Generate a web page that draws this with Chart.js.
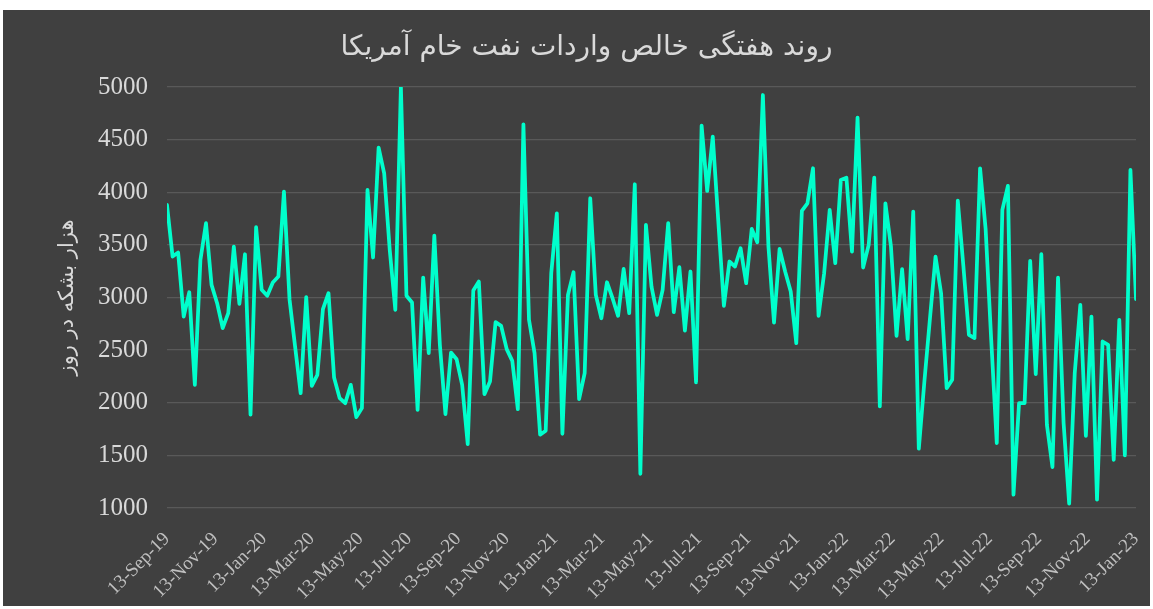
<!DOCTYPE html>
<html>
<head>
<meta charset="utf-8">
<script src="https://cdn.jsdelivr.net/npm/chart.js@4.4.1/dist/chart.umd.min.js"></script>
<style>
    body { margin: 0; background: #ffffff; }
    .chart-box {
        position: absolute;
        left: 3px;
        top: 10px;
        width: 1147px;
        height: 596px;
        background: #404040;
    }
</style>
</head>
<body>
<div class="chart-box"><canvas id="chartContext"></canvas></div>
<script>
// First week of the series (weekly data, one point every 7 days)
const startDate = "2019-09-13";

// Weekly net crude imports, thousand barrels per day
const importValues = [
    3880, 3389, 3427, 2819, 3050, 2170, 3357, 3706, 3120, 2946,
    2709, 2851, 3484, 2940, 3411, 1886, 3668, 3073, 3016, 3142,
    3199, 4006, 2984, 2534, 2091, 3003, 2161, 2265, 2889, 3041,
    2240, 2044, 1996, 2170, 1864, 1949, 4022, 3380, 4424, 4180,
    3450, 2883, 5000, 3016, 2952, 1933, 3190, 2471, 3588, 2550,
    1892, 2477, 2414, 2170, 1607, 3066, 3152, 2082, 2202, 2766,
    2731, 2509, 2398, 1939, 4646, 2788, 2471, 1696, 1734, 3231,
    3800, 1705, 3025, 3240, 2034, 2281, 3943, 3025, 2803, 3145,
    2993, 2826, 3272, 2851, 4076, 1325, 3690, 3104, 2835, 3073,
    3706, 2860, 3288, 2686, 3247, 2193, 4633, 4012, 4528, 3721,
    2921, 3342, 3294, 3468, 3136, 3652, 3525, 4924, 3484, 2762,
    3462, 3247, 3057, 2566, 3823, 3895, 4228, 2826, 3231, 3832,
    3326, 4117, 4139, 3436, 4709, 3285, 3500, 4139, 1965, 3895,
    3484, 2636, 3269, 2604, 3816, 1563, 2200, 2800, 3389, 3041,
    2139, 2218, 3921, 3300, 2645, 2614, 4228, 3650, 2600, 1617,
    3832, 4060, 1126, 1997, 1997, 3348, 2272, 3411, 1791, 1389,
    3190, 1807, 1041, 2281, 2930, 1686, 2819, 1079, 2582, 2550,
    1458, 2788, 1500, 4212, 2984
];

// Date axis ticks (every two months)
const tickDates = [
    "2019-09-13", "2019-11-13", "2020-01-13", "2020-03-13", "2020-05-13",
    "2020-07-13", "2020-09-13", "2020-11-13", "2021-01-13", "2021-03-13",
    "2021-05-13", "2021-07-13", "2021-09-13", "2021-11-13", "2022-01-13",
    "2022-03-13", "2022-05-13", "2022-07-13", "2022-09-13", "2022-11-13",
    "2023-01-13"
];
const tickLabels = [
    "13-Sep-19", "13-Nov-19", "13-Jan-20", "13-Mar-20", "13-May-20",
    "13-Jul-20", "13-Sep-20", "13-Nov-20", "13-Jan-21", "13-Mar-21",
    "13-May-21", "13-Jul-21", "13-Sep-21", "13-Nov-21", "13-Jan-22",
    "13-Mar-22", "13-May-22", "13-Jul-22", "13-Sep-22", "13-Nov-22",
    "13-Jan-23"
];

const yTicks = [1000, 1500, 2000, 2500, 3000, 3500, 4000, 4500, 5000];

const chartTitle = "روند هفتگی خالص واردات نفت خام آمریکا";
const yAxisTitle = "هزار بشکه در روز";

// Days between a date string and the first week
function dayOffset(dateStr) {
    return Math.round((Date.parse(dateStr) - Date.parse(startDate)) / 86400000);
}

const tickDays = tickDates.map(dayOffset);
const points = importValues.map((v, i) => ({ x: i * 7, y: v }));

const serif = "'Liberation Serif', 'Times New Roman', serif";

// Title drawn a little right of the canvas centre, like the original
const titlePlugin = {
    id: "offsetTitle",
    afterDraw(chart) {
        const ctx = chart.ctx;
        ctx.save();
        ctx.font = "28px 'DejaVu Sans', sans-serif";
        ctx.fillStyle = "#d9d9d9";
        ctx.textAlign = "center";
        ctx.textBaseline = "middle";
        ctx.fillText(chartTitle, chart.width / 2 + 10, 38);
        ctx.restore();
    },
};

new Chart(document.getElementById("chartContext"), {
    type: "line",
    data: {
        datasets: [
            {
                data: points,
                borderColor: "#00ffcc",
                borderWidth: 3.75,
                borderCapStyle: "round",
                borderJoinStyle: "round",
                pointRadius: 0,
                tension: 0,
            },
        ],
    },
    plugins: [titlePlugin],
    options: {
        responsive: true,
        maintainAspectRatio: false,
        animation: false,
        layout: { padding: { left: 0, right: 14, top: 77, bottom: 0 } },
        plugins: {
            legend: { display: false },
            tooltip: { enabled: false },
            title: { display: false },
        },
        scales: {
            x: {
                type: "linear",
                min: 0,
                max: tickDays[tickDays.length - 1],
                grid: { display: false },
                border: { display: false },
                afterBuildTicks: (scale) => {
                    scale.ticks = tickDays.map((d) => ({ value: d }));
                },
                afterFit: (scale) => {
                    scale.height = 98;
                    scale.paddingLeft = 0;
                    scale.paddingRight = 0;
                },
                ticks: {
                    autoSkip: false,
                    minRotation: 45,
                    maxRotation: 45,
                    padding: 12,
                    color: "#bfbfbf",
                    font: { family: serif, size: 19 },
                    callback: (value, index) => tickLabels[index],
                },
            },
            y: {
                min: 1000,
                max: 5000,
                grid: { color: "#595959", lineWidth: 1.3, drawTicks: false },
                border: { display: false },
                afterBuildTicks: (scale) => {
                    scale.ticks = yTicks.map((v) => ({ value: v }));
                },
                afterFit: (scale) => {
                    scale.width = 164;
                    scale.paddingTop = 0;
                    scale.paddingBottom = 0;
                },
                ticks: {
                    padding: 19,
                    color: "#d9d9d9",
                    font: { family: serif, size: 25 },
                    callback: (value) => String(value),
                },
                title: {
                    display: true,
                    text: yAxisTitle,
                    color: "#d9d9d9",
                    font: { family: "'DejaVu Sans', sans-serif", size: 21 },
                    padding: { top: 52 },
                },
            },
        },
    },
});
</script>
</body>
</html>
